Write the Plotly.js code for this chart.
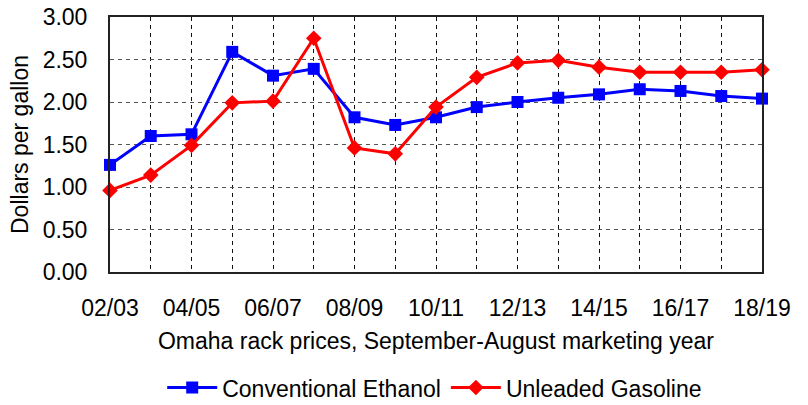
<!DOCTYPE html>
<html><head><meta charset="utf-8">
<script src="https://cdn.plot.ly/plotly-3.0.1.min.js"></script>
<style>html,body{margin:0;padding:0;background:#fff}#chart{width:808px;height:405px}</style>
</head><body><div id="chart"></div>
<script>
const categories = ["02/03","03/04","04/05","05/06","06/07","07/08","08/09","09/10","10/11","11/12","12/13","13/14","14/15","15/16","16/17","17/18","18/19"];
const ethanol = [1.26,1.60,1.62,2.59,2.31,2.39,1.82,1.73,1.82,1.94,2.00,2.05,2.09,2.15,2.13,2.07,2.04];
const gasoline = [0.96,1.14,1.49,1.99,2.01,2.75,1.46,1.39,1.94,2.29,2.46,2.49,2.41,2.35,2.35,2.35,2.38];
const yTicks = [0,0.5,1,1.5,2,2.5,3];

const fontFam = '"Liberation Sans", Arial, sans-serif';
const FS = 23;
const traces = [
  {x: categories, y: ethanol, name: "Conventional Ethanol", type: "scatter", mode: "lines+markers",
   line: {color: "#0000ff", width: 3}, marker: {symbol: "square", size: 12, color: "#0000ff"}, cliponaxis: false},
  {x: categories, y: gasoline, name: "Unleaded Gasoline", type: "scatter", mode: "lines+markers",
   line: {color: "#ff0000", width: 3}, marker: {symbol: "diamond", size: 12, color: "#ff0000"}, cliponaxis: false}
];
const layout = {
  width: 808, height: 405,
  margin: {l: 110, r: 46, t: 17, b: 133},
  paper_bgcolor: "#fff", plot_bgcolor: "#fff",
  font: {family: fontFam, size: FS, color: "#000"},
  showlegend: true,
  legend: {orientation: "h", x: 0.538, xref: "container", xanchor: "center", y: 0.043, yref: "container", yanchor: "middle",
           font: {size: FS}, itemwidth: 50, tracegroupgap: 0},
  xaxis: {
    type: "category", range: [0, 16], automargin: false,
    tickvals: categories, ticktext: categories.map((c, i) => i % 2 === 0 ? c : ""),
    showgrid: true, gridcolor: "#111", griddash: "4px,4px", gridwidth: 1,
    showline: true, linecolor: "#222", linewidth: 2, mirror: true,
    ticks: "", ticklabelstandoff: 14, tickfont: {size: FS}, zeroline: false,
    title: {text: "Omaha rack prices, September-August marketing year", font: {size: FS}, standoff: 13}
  },
  yaxis: {
    range: [0, 3], automargin: false, tickvals: yTicks, ticktext: yTicks.map(v => v.toFixed(2)),
    showgrid: true, gridcolor: "#555", griddash: "4px,4px", gridwidth: 1,
    showline: true, linecolor: "#222", linewidth: 2, mirror: true,
    ticks: "", ticklabelstandoff: 16, tickfont: {size: FS}, zeroline: false,
    title: {text: "Dollars per gallon", font: {size: FS}, standoff: 8}
  }
};
Plotly.newPlot("chart", traces, layout, {staticPlot: true, displayModeBar: false});
</script></body></html>
